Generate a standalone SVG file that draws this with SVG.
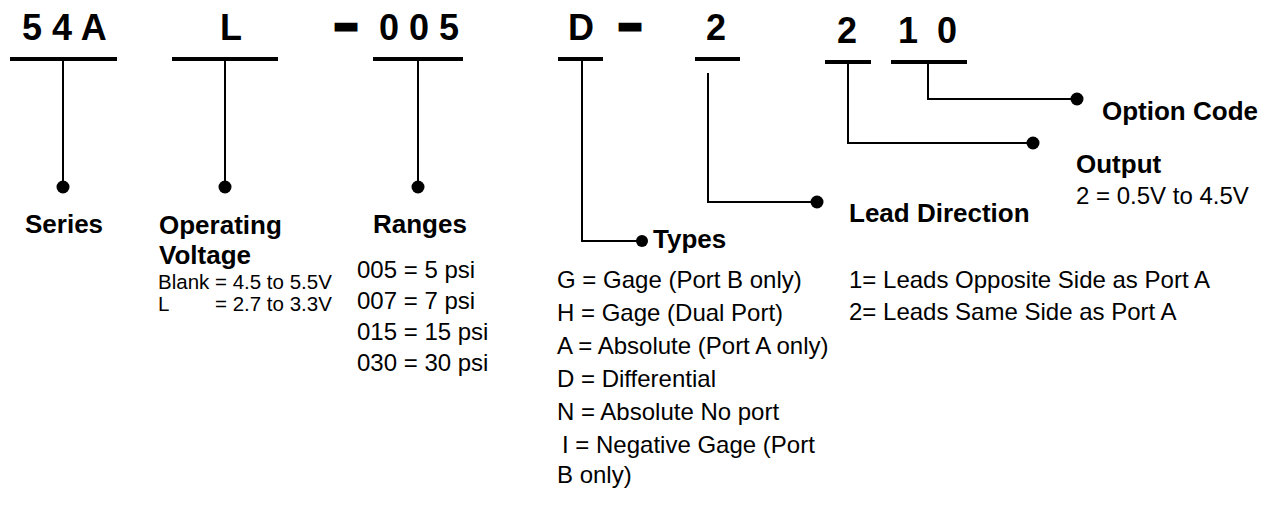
<svg xmlns="http://www.w3.org/2000/svg" width="1273" height="518" viewBox="0 0 1273 518">
<style>
.hd{font-family:"Liberation Sans",Arial,sans-serif;font-weight:bold;font-size:36px;fill:#000}
.dash{font-family:"Liberation Sans",Arial,sans-serif;font-weight:bold;font-size:36px;fill:#000;stroke:#000;stroke-width:5}
.lb{font-family:"Liberation Sans",Arial,sans-serif;font-weight:bold;font-size:26px;fill:#000}
.tx{font-family:"Liberation Sans",Arial,sans-serif;font-size:24px;fill:#000}
.sm{font-family:"Liberation Sans",Arial,sans-serif;font-size:20.5px;fill:#000}
.bar{stroke:#000;stroke-width:4;fill:none}
.ln{stroke:#000;stroke-width:2;fill:none}
.dot{fill:#000}
</style>
<rect width="1273" height="518" fill="#fff"/>
<g id="header">
<text class="hd" x="22" y="40">5 4 A</text>
<text class="hd" x="220" y="40">L</text>
<text class="dash" x="336" y="37">–</text>
<text class="hd" x="379" y="40">0 0 5</text>
<text class="hd" x="568" y="40">D</text>
<text class="dash" x="620" y="37">–</text>
<text class="hd" x="706" y="40">2</text>
<text class="hd" x="837" y="43">2</text>
<text class="hd" x="898" y="43">1</text>
<text class="hd" x="937" y="43">0</text>
<line class="bar" x1="10" y1="59" x2="117" y2="59"/>
<line class="bar" x1="172" y1="59" x2="278" y2="59"/>
<line class="bar" x1="373" y1="59" x2="463" y2="59"/>
<line class="bar" x1="558" y1="59" x2="603" y2="59"/>
<line class="bar" x1="695" y1="59" x2="740" y2="59"/>
<line class="bar" x1="825" y1="62" x2="871" y2="62"/>
<line class="bar" x1="891" y1="62" x2="967" y2="62"/>
</g>
<g id="connectors">
<polyline class="ln" points="63,61 63,187"/>
<polyline class="ln" points="225,61 225,187"/>
<polyline class="ln" points="418,61 418,187"/>
<polyline class="ln" points="582,61 582,241 642,241"/>
<polyline class="ln" points="708,73 708,202 817,202"/>
<polyline class="ln" points="848,64 848,143 1033,143"/>
<polyline class="ln" points="928,64 928,99 1077,99"/>
<circle class="dot" cx="63" cy="187" r="6.5"/>
<circle class="dot" cx="225" cy="187" r="6.5"/>
<circle class="dot" cx="418" cy="187" r="6.5"/>
<circle class="dot" cx="642" cy="241" r="6"/>
<circle class="dot" cx="817" cy="202" r="6.5"/>
<circle class="dot" cx="1033" cy="143" r="6.5"/>
<circle class="dot" cx="1077" cy="99" r="6.5"/>
</g>
<g id="series">
<text class="lb" x="25" y="233">Series</text>
</g>
<g id="voltage">
<text class="lb" x="159" y="234">Operating</text>
<text class="lb" x="159" y="264">Voltage</text>
<text class="sm" x="158" y="289">Blank = 4.5 to 5.5V</text>
<text class="sm" x="158" y="311">L</text>
<text class="sm" x="215" y="311">= 2.7 to 3.3V</text>
</g>
<g id="ranges">
<text class="lb" x="373" y="233">Ranges</text>
<text class="tx" x="357" y="278">005 = 5 psi</text>
<text class="tx" x="357" y="309">007 = 7 psi</text>
<text class="tx" x="357" y="340">015 = 15 psi</text>
<text class="tx" x="357" y="371">030 = 30 psi</text>
</g>
<g id="types">
<text class="lb" x="653" y="248">Types</text>
<text class="tx" x="557" y="288">G = Gage (Port B only)</text>
<text class="tx" x="557" y="321">H = Gage (Dual Port)</text>
<text class="tx" x="557" y="354">A = Absolute (Port A only)</text>
<text class="tx" x="557" y="387">D = Differential</text>
<text class="tx" x="557" y="420">N = Absolute No port</text>
<text class="tx" x="562" y="453">I = Negative Gage (Port</text>
<text class="tx" x="557" y="483">B only)</text>
</g>
<g id="lead">
<text class="lb" x="849" y="222">Lead Direction</text>
<text class="tx" x="849" y="288">1= Leads Opposite Side as Port A</text>
<text class="tx" x="849" y="320">2= Leads Same Side as Port A</text>
</g>
<g id="output">
<text class="lb" x="1076" y="173">Output</text>
<text class="tx" x="1076" y="204">2 = 0.5V to 4.5V</text>
</g>
<g id="option">
<text class="lb" x="1102" y="120">Option Code</text>
</g>
</svg>
